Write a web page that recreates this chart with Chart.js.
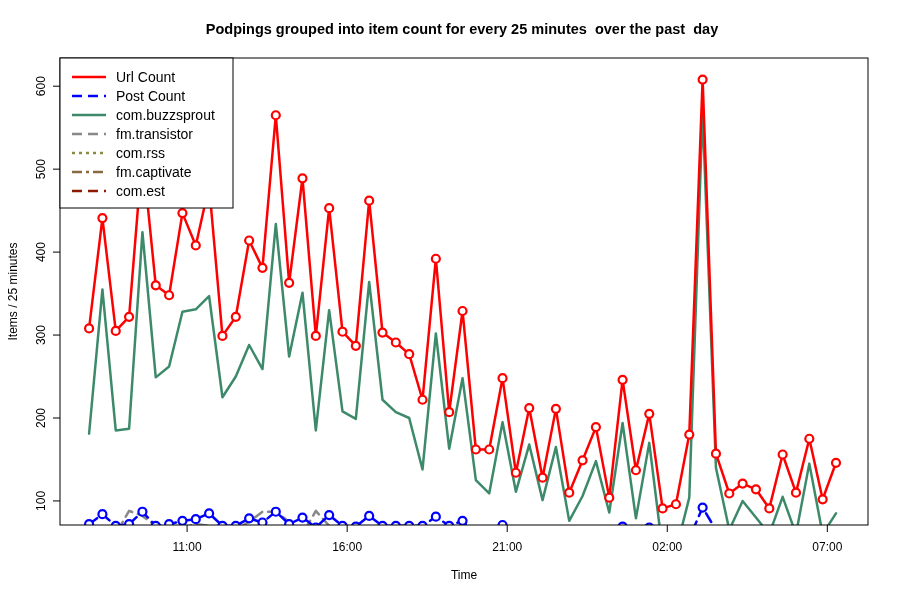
<!DOCTYPE html>
<html><head><meta charset="utf-8">
<script src="https://cdn.jsdelivr.net/npm/chart.js@4"></script>
<style>body{margin:0;background:#fff}#w{width:900px;height:600px}</style>
</head><body><div id="w"><canvas id="c"></canvas></div>
<script>
const title = "Podpings grouped into item count for every 25 minutes  over the past  day";
const tickLabels = ["11:00","16:00","21:00","02:00","07:00"];
const tickPositions = [7.35,19.35,31.35,43.35,55.35];
const yTicks = [100,200,300,400,500,600];
const urlCount = [308,441,305,322,520,360,348,447,408,480,299,322,414,381,565,363,489,299,453,304,287,462,303,291,277,222,392,207,329,162,162,248,134,212,128,211,110,149,189,104,246,137,205,91,96,180,608,157,109,121,114,91,156,110,175,102,146];
const buzzsprout = [181,355,185,187,424,249,262,328,331,347,225,250,288,259,434,274,351,185,330,208,199,364,222,207,200,138,302,163,248,125,109,195,111,168,101,165,76,106,148,86,194,79,170,40,40,104,570,140,65,100,80,60,105,60,145,60,85];
const postCount = [72,84,70,72,87,70,72,76,78,85,70,70,79,74,87,72,80,68,83,70,69,82,70,70,70,70,81,70,76,60,60,71,65,60,60,60,55,55,60,55,69,55,68,50,50,55,92,65,55,55,55,50,55,50,55,50,55];
const transistor = [60,65,60,88,82,70,65,68,72,70,60,65,75,87,87,75,60,88,70,60,60,65,60,60,60,55,60,55,58,50,50,52,50,50,50,50,45,45,48,45,50,45,48,40,40,45,60,45,40,42,40,38,40,38,40,38,40];
const rss = urlCount.map(()=>20);
const captivate = urlCount.map(()=>10);
const est = urlCount.map(()=>5);
const pts = a => a.map((v,i)=>({x:i,y:v}));
const datasets = [
 {label:"Url Count",data:pts(urlCount),borderColor:"#ff0000",borderWidth:2.5,pointRadius:4,pointBorderWidth:2.2,pointBackgroundColor:"#fff",pointBorderColor:"#ff0000",dash:[]},
 {label:"Post Count",data:pts(postCount),borderColor:"#0000ff",borderWidth:2.5,pointRadius:4,pointBorderWidth:2.2,pointBackgroundColor:"#fff",pointBorderColor:"#0000ff",borderDash:[10,6],dash:[10,6]},
 {label:"com.buzzsprout",data:pts(buzzsprout),borderColor:"#3d8a6a",borderWidth:2.5,pointRadius:0,dash:[]},
 {label:"fm.transistor",data:pts(transistor),borderColor:"#888888",borderWidth:2.5,pointRadius:0,borderDash:[10,6],dash:[10,6]},
 {label:"com.rss",data:pts(rss),borderColor:"#8a8a40",borderWidth:2.5,pointRadius:0,borderDash:[3,4],dash:[3,4]},
 {label:"fm.captivate",data:pts(captivate),borderColor:"#8a6a40",borderWidth:2.5,pointRadius:0,borderDash:[10,4,3,4],dash:[10,4,3,4]},
 {label:"com.est",data:pts(est),borderColor:"#8b1a00",borderWidth:2.5,pointRadius:0,borderDash:[10,6],dash:[10,6]}
];
datasets.forEach(d=>{d.borderJoinStyle='round';d.borderCapStyle='round';});
const F = "'Liberation Sans', Arial, sans-serif";
const deco = {id:'deco',afterDraw(ch){
 const c=ch.ctx,a=ch.chartArea,xs=ch.scales.x,ys=ch.scales.y;
 c.save();c.strokeStyle="#000";c.lineWidth=1;c.setLineDash([]);
 c.strokeRect(a.left,a.top,a.right-a.left,a.bottom-a.top);
 c.fillStyle="#000";c.font="12px "+F;
 c.textAlign="center";c.textBaseline="top";
 tickPositions.forEach((p,i)=>{const x=xs.getPixelForValue(p);c.beginPath();c.moveTo(x,a.bottom);c.lineTo(x,a.bottom+7);c.stroke();c.fillText(tickLabels[i],x,a.bottom+17);});
 yTicks.forEach(v=>{const y=ys.getPixelForValue(v);c.beginPath();c.moveTo(a.left,y);c.lineTo(a.left-7,y);c.stroke();
  c.save();c.translate(a.left-16,y);c.rotate(-Math.PI/2);c.textBaseline="bottom";c.fillText(String(v),0,4);c.restore();});
 c.fillText("Time",(a.left+a.right)/2,570);
 c.save();c.translate(14,(a.top+a.bottom)/2);c.rotate(-Math.PI/2);c.textBaseline="middle";c.fillText("Items / 25 minutes",0,0);c.restore();
 c.font="bold 14.5px "+F;c.textBaseline="middle";c.fillText(title,462,30);
 const lx=a.left,ly=a.top,lw=173,lh=150;
 c.fillStyle="#fff";c.fillRect(lx,ly,lw,lh);c.strokeRect(lx,ly,lw,lh);
 c.font="14px "+F;c.textAlign="left";
 datasets.forEach((d,i)=>{const y=ly+19+i*19;c.strokeStyle=d.borderColor;c.lineWidth=2.5;c.setLineDash(d.dash);
  c.beginPath();c.moveTo(lx+12,y);c.lineTo(lx+46,y);c.stroke();c.fillStyle="#000";c.fillText(d.label,lx+56,y+1);});
 c.restore();
}};
new Chart(document.getElementById('c'),{type:'line',data:{datasets},
 options:{responsive:true,maintainAspectRatio:false,animation:false,
  layout:{padding:{left:60,top:58,right:32,bottom:75}},
  plugins:{legend:{display:false},tooltip:{enabled:false}},
  scales:{x:{type:'linear',min:-2.18,max:58.4,display:false},y:{min:71,max:634,display:false}}},
 plugins:[deco]});
</script></body></html>
